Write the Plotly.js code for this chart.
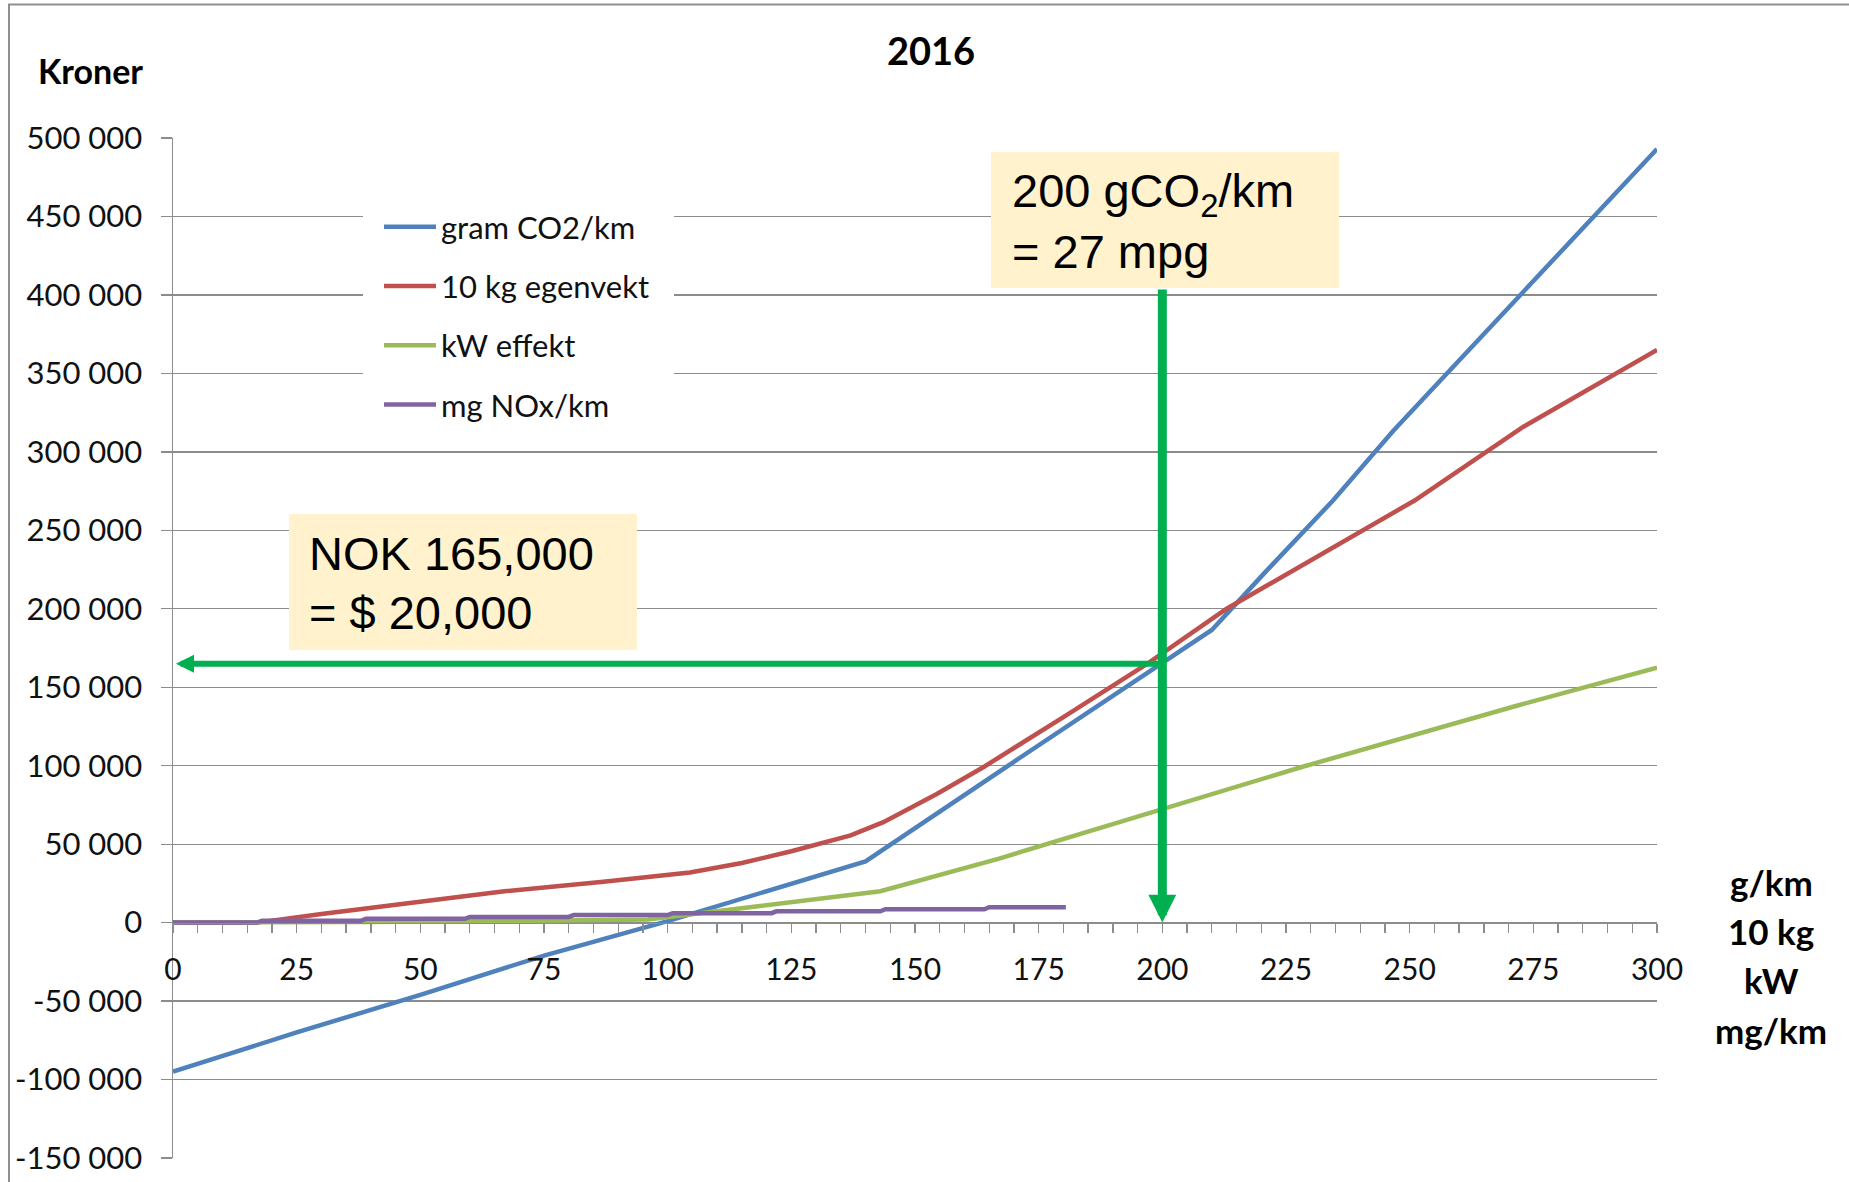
<!DOCTYPE html>
<html>
<head>
<meta charset="utf-8">
<script src="https://cdn.plot.ly/plotly-3.0.1.min.js"></script>
<style>
  html, body { margin: 0; padding: 0; background: #fff; }
  #chart { width: 1849px; height: 1182px; }
</style>
</head>
<body>
<div id="chart"></div>
<script>
// Registration tax 2016 (kroner) per component: CO2, curb weight, power, NOx

// gram CO2/km
const co2X = [0, 25, 50, 75, 100, 125, 140, 170, 200, 210, 221, 234.5, 246.7, 272.3, 300];
const co2Y = [-95000, -70000, -46000, -21000, 1000, 25000, 39000, 102500, 165000, 186500, 224000, 269000, 313500, 400000, 493000];

// 10 kg egenvekt
const weightX = [0, 17, 30, 50, 67, 87, 104.5, 115, 125, 137, 143.6, 154.4, 163.8, 180, 197, 213, 241, 251, 273, 300];
const weightY = [0, 0, 5500, 13500, 20000, 26000, 32000, 38000, 45500, 55600, 64000, 82000, 99000, 131000, 165000, 200000, 251000, 269000, 316000, 365000];

// kW effekt
const powerX = [0, 17, 38, 59, 80, 96, 117, 137, 143, 167, 197, 228, 272, 300];
const powerY = [0, 0, 400, 800, 1400, 2000, 10000, 17500, 20000, 40800, 69500, 99000, 138500, 162500];

// mg NOx/km (stepped)
const noxX = [0, 17, 18, 38, 39, 59, 60, 80, 81, 100, 101, 121, 122, 143, 144, 164, 165, 180.5];
const noxY = [0, 0, 1200, 1200, 2400, 2400, 3600, 3600, 4800, 4800, 6000, 6000, 7200, 7200, 8500, 8500, 9800, 9800];

const seriesNames = ['gram CO2/km', '10 kg egenvekt', 'kW effekt', 'mg NOx/km'];
const seriesColors = ['#4F81BD', '#C0504D', '#9BBB59', '#8064A2'];

const yRange = [-150000, 500000];
const yTickVals = [-150000, -100000, -50000, 0, 50000, 100000, 150000, 200000, 250000, 300000, 350000, 400000, 450000, 500000];
const yTickText = ['-150 000', '-100 000', '-50 000', '0', '50 000', '100 000', '150 000', '200 000', '250 000', '300 000', '350 000', '400 000', '450 000', '500 000'];
const xRange = [0, 300];
const xTickVals = [0, 25, 50, 75, 100, 125, 150, 175, 200, 225, 250, 275, 300];
const xTickText = ['0', '25', '50', '75', '100', '125', '150', '175', '200', '225', '250', '275', '300'];

// Marked example: 200 g CO2/km gives NOK 165,000
const markX = 200;
const markY = 165000;
const unitLabels = ['g/km', '10 kg', 'kW', 'mg/km'];

// page geometry
const W = 1849, H = 1182;
const M = { l: 173, r: 192, t: 138, b: 24 };
const PW = W - M.l - M.r, PH = H - M.t - M.b;
const fx = p => (p - M.l) / PW;
const fy = p => (H - M.b - p) / PH;

const LABEL_FONT = 'Lato, "Open Sans", sans-serif';
const BOX_FONT = '"Liberation Sans", Arial, sans-serif';
const GREEN = '#00B050';
const GRID = '#8C8C8C';

const xs = [co2X, weightX, powerX, noxX];
const ys = [co2Y, weightY, powerY, noxY];
const traces = xs.map((x, i) => ({
  type: 'scatter',
  mode: 'lines',
  x: x,
  y: ys[i],
  name: seriesNames[i],
  legendgroup: 'g' + i,
  line: { color: seriesColors[i], width: 4.5 },
  hoverinfo: 'x+y+name'
}));

const shapes = [
  // outer chart frame
  { type: 'rect', xref: 'paper', yref: 'paper', x0: fx(9), x1: fx(1880), y0: fy(1200), y1: fy(4.5),
    line: { color: '#8F8F8F', width: 2 }, fillcolor: 'rgba(0,0,0,0)', layer: 'above' },
  // legend backdrop
  { type: 'rect', xref: 'paper', yref: 'paper', x0: fx(363), x1: fx(674), y0: fy(436), y1: fy(195),
    line: { width: 0 }, fillcolor: '#FFFFFF', layer: 'above' },
  // note boxes
  { type: 'rect', xref: 'paper', yref: 'paper', x0: fx(991), x1: fx(1339), y0: fy(288), y1: fy(152),
    line: { width: 0 }, fillcolor: '#FFF2CC', layer: 'above' },
  { type: 'rect', xref: 'paper', yref: 'paper', x0: fx(289), x1: fx(637), y0: fy(650), y1: fy(514),
    line: { width: 0 }, fillcolor: '#FFF2CC', layer: 'above' }
];

const zeroPx = M.t + PH * (yRange[1] - 0) / (yRange[1] - yRange[0]);

const annotations = [
  { xref: 'paper', yref: 'paper', x: fx(90), y: fy(70), xanchor: 'center', yanchor: 'middle',
    text: '<b>Kroner</b>', showarrow: false, font: { family: LABEL_FONT, size: 34, color: '#000' } },
  // note text
  { xref: 'paper', yref: 'paper', x: fx(1010), y: fy(194), xanchor: 'left', yanchor: 'middle',
    text: '200 gCO<sub>2</sub>/km', showarrow: false, font: { family: BOX_FONT, size: 47, color: '#000' } },
  { xref: 'paper', yref: 'paper', x: fx(1010), y: fy(251), xanchor: 'left', yanchor: 'middle',
    text: '= 27 mpg', showarrow: false, font: { family: BOX_FONT, size: 47, color: '#000' } },
  { xref: 'paper', yref: 'paper', x: fx(307), y: fy(553), xanchor: 'left', yanchor: 'middle',
    text: 'NOK 165,000', showarrow: false, font: { family: BOX_FONT, size: 47, color: '#000' } },
  { xref: 'paper', yref: 'paper', x: fx(307), y: fy(612), xanchor: 'left', yanchor: 'middle',
    text: '= $ 20,000', showarrow: false, font: { family: BOX_FONT, size: 47, color: '#000' } },
  // arrows: across to the price axis, and down to the CO2 axis
  { xref: 'x', yref: 'y', axref: 'x', ayref: 'y', x: 0.6, y: markY, ax: markX, ay: markY,
    text: '', showarrow: true, arrowhead: 2, arrowwidth: 6, arrowsize: 0.6, arrowcolor: GREEN, standoff: 0 },
  { xref: 'x', yref: 'y', axref: 'pixel', ayref: 'pixel', x: markX, y: 0, ax: 0, ay: 288 - zeroPx,
    text: '', showarrow: true, arrowhead: 2, arrowwidth: 9, arrowsize: 0.62, arrowcolor: GREEN, standoff: 0 }
];

const unitY = [882, 931, 980, 1030];
unitLabels.forEach((t, i) => annotations.push({
  xref: 'paper', yref: 'paper', x: fx(1771), y: fy(unitY[i]), xanchor: 'center', yanchor: 'middle',
  text: '<b>' + t + '</b>', showarrow: false, font: { family: LABEL_FONT, size: 35, color: '#000' }
}));

const layout = {
  width: W, height: H,
  margin: M,
  paper_bgcolor: '#FFFFFF',
  plot_bgcolor: '#FFFFFF',
  showlegend: true,
  title: {
    text: '<b>2016</b>', xref: 'container', yref: 'container',
    x: 931 / W, y: 1 - 52 / H, xanchor: 'center', yanchor: 'middle',
    font: { family: LABEL_FONT, size: 38, color: '#000' }
  },
  xaxis: {
    range: xRange,
    anchor: 'free',
    position: (0 - yRange[0]) / (yRange[1] - yRange[0]),
    tickmode: 'array', tickvals: xTickVals, ticktext: xTickText,
    showgrid: false, zeroline: false,
    showline: true, linecolor: GRID, linewidth: 1.5,
    ticks: 'outside', ticklen: 9, tickwidth: 1.3, tickcolor: GRID,
    minor: { tickmode: 'linear', tick0: 0, dtick: 5, ticks: 'outside', ticklen: 9, tickwidth: 1.3, tickcolor: GRID, showgrid: false },
    ticklabelstandoff: 11,
    tickfont: { family: LABEL_FONT, size: 30, color: '#111' },
    fixedrange: true
  },
  yaxis: {
    range: yRange,
    tickmode: 'array', tickvals: yTickVals, ticktext: yTickText,
    showgrid: true, gridcolor: GRID, gridwidth: 1.3,
    zeroline: false,
    showline: true, linecolor: GRID, linewidth: 1.5,
    ticks: 'outside', ticklen: 11, tickwidth: 1.3, tickcolor: GRID,
    ticklabelstandoff: 12,
    tickfont: { family: LABEL_FONT, size: 31, color: '#111' },
    fixedrange: true
  },
  legend: {
    x: fx(379), y: fy(200), xanchor: 'left', yanchor: 'top',
    bgcolor: 'rgba(0,0,0,0)', borderwidth: 0,
    traceorder: 'grouped', tracegroupgap: 16,
    itemwidth: 52,
    font: { family: LABEL_FONT, size: 31, color: '#111' }
  },
  shapes: shapes,
  annotations: annotations
};

Plotly.newPlot('chart', traces, layout, { displayModeBar: false, staticPlot: true });
</script>
</body>
</html>
